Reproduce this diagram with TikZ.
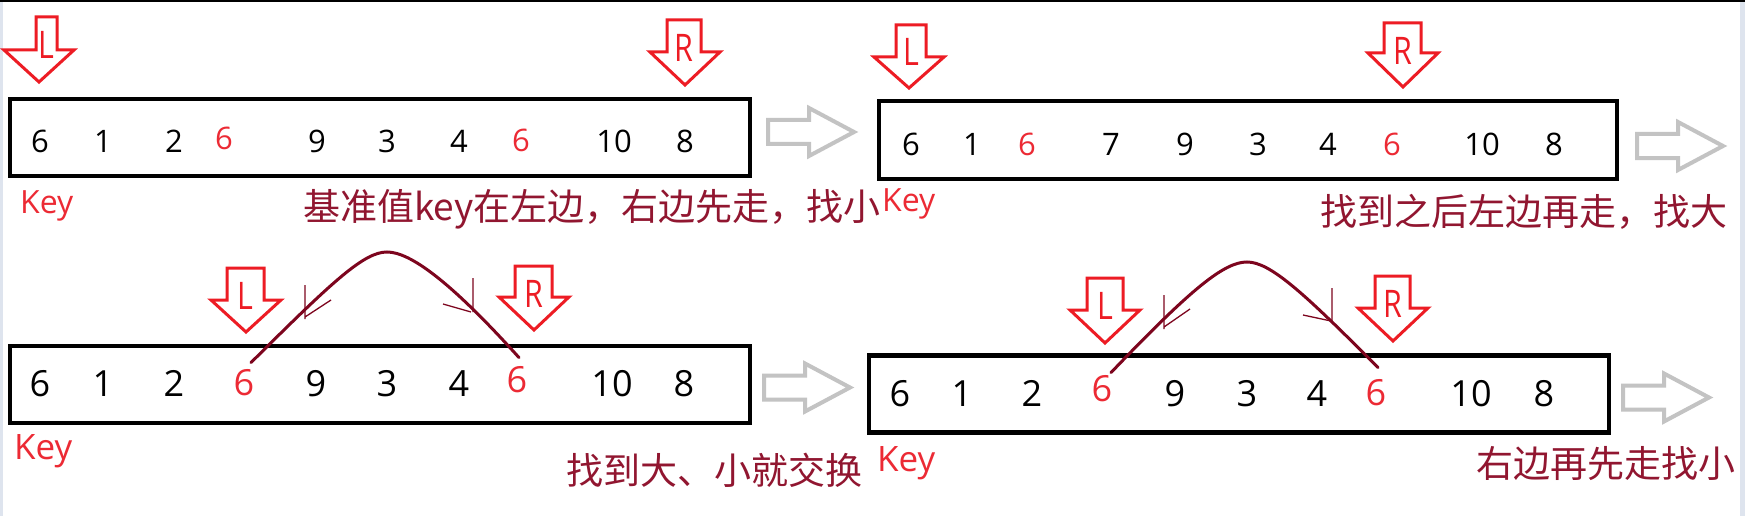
\documentclass[tikz,border=0pt]{standalone}
\usepackage{fontspec}
\newfontfamily\numf{Open Sans}
\newfontfamily\cjkf{Noto Sans CJK SC}
\definecolor{ptrred}{RGB}{237,28,36}
\definecolor{txtred}{RGB}{236,42,52}
\definecolor{cnred}{RGB}{145,22,48}
\definecolor{swapc}{RGB}{125,5,30}
\definecolor{garrow}{RGB}{195,195,195}
\definecolor{edgec}{RGB}{222,228,238}
% pointer: center, top, shoulder, tip, shaft left, shaft right, letter, name
\newcommand\ptrmark[8]{%
  \draw[ptrst] (#5,#2) -- (#6,#2) -- (#6,#3) -- ({#1+35},#3) -- (#1,#4) -- ({#1-35},#3) -- (#5,#3) -- cycle;
  \node[ptrtxt] (#8) at ({(#5+#6)/2},{#2+0.43*(#4-#2)}) {\scalebox{0.8}[1]{#7}};
}
\newcommand\grayarrow[2]{%
  \draw[grst] (#1,{#2-12}) -- ({#1+41},{#2-12}) -- ({#1+41},{#2-24}) -- ({#1+86},#2) -- ({#1+41},{#2+24}) -- ({#1+41},{#2+12}) -- (#1,{#2+12}) -- cycle;
}
\begin{document}
\begin{tikzpicture}[x=1pt,y=-1pt,
  boxst/.style={draw=black, line width=4.2pt, minimum width=740pt, minimum height=77pt, inner sep=0pt, outer sep=0pt},
  numA/.style={font=\numf\fontsize{31}{31}\selectfont, inner sep=0pt},
  numB/.style={font=\numf\fontsize{36}{36}\selectfont, inner sep=0pt},
  keyA/.style={font=\numf\fontsize{32}{32}\selectfont, text=txtred, inner sep=0pt, anchor=base west},
  keyB/.style={font=\numf\fontsize{35}{35}\selectfont, text=txtred, inner sep=0pt, anchor=base west},
  cnst/.style={font=\cjkf\fontsize{37}{37}\selectfont, text=cnred, inner sep=0pt, anchor=west},
  ptrst/.style={draw=ptrred, line width=3pt, line join=miter},
  ptrtxt/.style={font=\numf\fontsize{38}{38}\selectfont, text=ptrred, inner sep=0pt},
  grst/.style={draw=garrow, line width=4pt, line join=miter},
  swapst/.style={draw=swapc, line width=3pt, line cap=round},
  tickst/.style={draw=swapc, line width=1.3pt}
]
\useasboundingbox (0,0) rectangle (1745,516);
\fill[white] (0,0) rectangle (1745,516);
\fill[edgec] (0,0) rectangle (3,516);
\fill[edgec] (1740,0) rectangle (1745,516);
\draw[black, line width=2pt] (0,1) -- (1745,1);

% ---------- panel 1 ----------
\node[boxst] (box1) at (380,137.5) {};
\foreach \v/\x/\y/\c [count=\i] in {6/40/141/black, 1/103/141/black, 2/174/141/black, 6/224/138/txtred, 9/317/141/black, 3/387/141/black, 4/459/141/black, 6/521/140/txtred, 10/614/141/black, 8/685/141/black}
  \node[numA, text=\c] (p1n\i) at (\x,\y) {\v};
\ptrmark{39}{17}{50}{82}{36}{57}{L}{p1L}
\ptrmark{685}{20}{52}{85}{667}{701}{R}{p1R}
\node[keyA] (key1) at (20,213) {Key};
\node[cnst] (t1) at (303,209) {基准值key在左边，右边先走，找小};
\grayarrow{768}{132}

% ---------- panel 2 ----------
\node[boxst, minimum width=738pt, minimum height=78pt] (box2) at (1248,140) {};
\foreach \v/\x/\c [count=\i] in {6/911/black, 1/972/black, 6/1027/txtred, 7/1111/black, 9/1185/black, 3/1258/black, 4/1328/black, 6/1392/txtred, 10/1482/black, 8/1554/black}
  \node[numA, text=\c] (p2n\i) at (\x,144) {\v};
\ptrmark{909}{25}{57}{88}{896}{926}{L}{p2L}
\ptrmark{1403}{23}{53}{87}{1384}{1421}{R}{p2R}
\node[keyA] (key2) at (882,211) {Key};
\node[cnst] (t2) at (1320,212) {找到之后左边再走，找大};
\grayarrow{1637}{146}

% ---------- panel 3 ----------
\node[boxst] (box3) at (380,384.5) {};
\foreach \v/\x/\y/\c [count=\i] in {6/40/383.5/black, 1/103/383.5/black, 2/174/383.5/black, 6/244/383/txtred, 9/316/383.5/black, 3/387/383.5/black, 4/459/383.5/black, 6/517/380/txtred, 10/612/383.5/black, 8/684/383.5/black}
  \node[numB, text=\c] (p3n\i) at (\x,\y) {\v};
\ptrmark{246}{268}{300}{332}{227}{264}{L}{p3L}
\ptrmark{534}{266}{297}{330}{515}{552}{R}{p3R}
\node[keyB] (key3) at (14,459) {Key};
\node[cnst] (t3) at (566,470) {找到大、小就交换};
\grayarrow{764}{387.5}
\draw[swapst] ([shift={(7pt,7pt)}]p3n4.north) .. controls (333,281) and (364,252) .. (387,252)
  .. controls (410,252) and (450,281) .. ([shift={(2pt,9pt)}]p3n8.north);
\draw[tickst] (305,285) -- (305,319) (305,317) -- (331,300);
\draw[tickst] (473,278) -- (473,312) (443,304) -- (471,312);

% ---------- panel 4 ----------
\node[boxst] (box4) at (1239,394) {};
\foreach \v/\x/\y/\c [count=\i] in {6/900/393.5/black, 1/962/393.5/black, 2/1032/393.5/black, 6/1102/389/txtred, 9/1175/393.5/black, 3/1247/393.5/black, 4/1317/393.5/black, 6/1376/393/txtred, 10/1471/393.5/black, 8/1544/393.5/black}
  \node[numB, text=\c] (p4n\i) at (\x,\y) {\v};
\ptrmark{1105}{278}{310}{343}{1087}{1123}{L}{p4L}
\ptrmark{1393}{276}{308}{341}{1375}{1410}{R}{p4R}
\node[keyB] (key4) at (877,471) {Key};
\node[cnst] (t4) at (1476,464) {右边再先走找小};
\grayarrow{1623}{397.5}
\draw[swapst] ([shift={(9pt,3pt)}]p4n4.north) .. controls (1191,289) and (1224,262) .. (1247,262)
  .. controls (1270,262) and (1303,292) .. ([shift={(2pt,12pt)}]p4n8.north);
\draw[tickst] (1164,295) -- (1164,329) (1164,327) -- (1190,309);
\draw[tickst] (1332,288) -- (1332,322) (1303,315) -- (1331,321);
\end{tikzpicture}
\end{document}
